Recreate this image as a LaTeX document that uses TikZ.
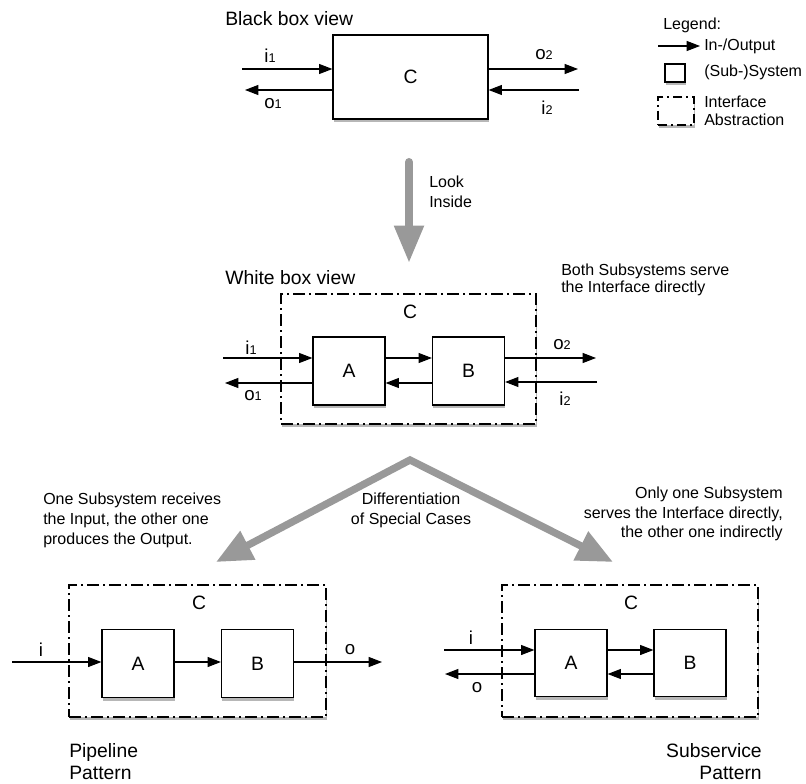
\documentclass[tikz,border=0pt]{standalone}
\usepackage{fontspec}
\setmainfont{Liberation Sans}
\usetikzlibrary{arrows.meta,shadows,calc}
\definecolor{biggray}{RGB}{153,153,153}
\tikzset{
  shad/.style={drop shadow={opacity=0.4,shadow xshift=0.4pt,shadow yshift=-2.5pt,fill=black!70}},
  sysbox/.style={draw, line width=0.9pt, fill=white, inner sep=0pt, shad,
    font=\fontsize{14.5}{16}\selectfont},
  iface/.style={draw, line width=1.1pt, dash pattern=on 9pt off 3pt on 1.5pt off 3pt,
    fill=white, inner sep=0pt, shad},
  io/.style={line width=0.8pt, -{Triangle[length=10pt,width=7.5pt]}},
  bigarrow/.style={draw=biggray, line width=6pt, line cap=round,
    -{Triangle[length=28pt,width=21pt]}},
  diffarrow/.style={draw=biggray, line width=5.5pt, line join=miter,
    {Triangle[length=27pt,width=23pt]}-{Triangle[length=27pt,width=23pt]}},
  head/.style={font=\fontsize{14.5}{16.5}\selectfont, inner sep=0pt},
  txt/.style={font=\fontsize{12}{15}\selectfont, inner sep=0pt},
  lbl/.style={font=\fontsize{14.5}{16}\selectfont, inner sep=0pt},
  port/.style={font=\fontsize{14}{15}\selectfont, inner sep=0pt},
}
\newcommand{\sbs}[1]{{\fontsize{9.5}{9.5}\selectfont #1}}
\begin{document}
\begin{tikzpicture}[x=0.75pt,y=-0.75pt]
\useasboundingbox (0,0) rectangle (806,784);

% ---------------- Black box view ----------------
\node[head, anchor=west] (hbb) at (225,19) {Black box view};
\node[sysbox, minimum width=116.25pt, minimum height=63pt] (C) at (410.5,77) {C};
\coordinate (bi1) at (242,69);
\coordinate (bo1) at (245,90);
\coordinate (bo2) at (578,69);
\coordinate (bi2) at (579,90);
\draw[io] (bi1) -- (bi1 -| C.west);
\draw[io] (C.west |- bo1) -- (bo1);
\draw[io] (C.east |- bo2) -- (bo2);
\draw[io] (bi2) -- (bi2 -| C.east);
\node[port] (lbi1) at (270,56) {i\sbs{1}};
\node[port] (lbo1) at (273,104) {o\sbs{1}};
\node[port] (lbo2) at (544,55) {o\sbs{2}};
\node[port] (lbi2) at (547,108) {i\sbs{2}};

% ---------------- Legend ----------------
\node[txt, anchor=west] (leg) at (663,25) {Legend:};
\coordinate (lga) at (658,46);
\coordinate (lgb) at (700,46);
\draw[io] (lga) -- (lgb);
\node[txt, anchor=west] (lgio) at (704,46) {In-/Output};
\node[draw, line width=0.9pt, fill=white, inner sep=0pt, shad,
      minimum width=15pt, minimum height=13.5pt] (lgsys) at (675,73) {};
\node[txt, anchor=west] (lgsyst) at (704,72) {(Sub-)System};
\node[iface, dash pattern=on 7pt off 3pt on 1.2pt off 3pt,
      minimum width=27pt, minimum height=21pt] (lgif) at (676,111) {};
\node[txt, anchor=west, align=left, font=\fontsize{12}{13.5}\selectfont] (lgift) at (704,111) {Interface\\Abstraction};

% ---------------- Look inside ----------------
\coordinate (lookS) at (409,162);
\coordinate (lookE) at (409,263);
\draw[bigarrow] (lookS) -- (lookE);
\node[txt, anchor=west, align=left] (look) at (429,192) {Look\\Inside};

% ---------------- White box view ----------------
\node[head, anchor=west] (hwb) at (225,278) {White box view};
\node[txt, anchor=west, align=left, font=\fontsize{12}{12.5}\selectfont] (both) at (561,280)
  {Both Subsystems serve\\the Interface directly};
\node[iface, minimum width=191.25pt, minimum height=97.5pt] (wC) at (408.5,359) {};
\node[lbl] (wCl) at (410,312) {C};
\node[sysbox, minimum width=54pt, minimum height=51pt] (wA) at (349,371) {A};
\node[sysbox, minimum width=54pt, minimum height=51pt] (wB) at (468.5,371) {B};
\coordinate (wi1) at (223,358);
\coordinate (wo1) at (225,383);
\coordinate (wab) at (0,358);
\coordinate (wba) at (0,383);
\coordinate (wo2) at (596,358);
\coordinate (wi2) at (597,382);
\draw[io] (wi1) -- (wi1 -| wA.west);
\draw[io] (wA.west |- wo1) -- (wo1);
\draw[io] (wA.east |- wab) -- (wB.west |- wab);
\draw[io] (wB.west |- wba) -- (wA.east |- wba);
\draw[io] (wB.east |- wo2) -- (wo2);
\draw[io] (wi2) -- (wi2 -| wB.east);
\node[port] (lwi1) at (251,348) {i\sbs{1}};
\node[port] (lwo1) at (253,396) {o\sbs{1}};
\node[port] (lwo2) at (562,345) {o\sbs{2}};
\node[port] (lwi2) at (565,399) {i\sbs{2}};

% ---------------- Differentiation ----------------
\coordinate (dL) at (216,562);
\coordinate (dT) at (410,460);
\coordinate (dR) at (613,562);
\draw[diffarrow] (dL) -- (dT) -- (dR);
\node[txt, align=center] (diff) at (411,510) {Differentiation\\of Special Cases};
\node[txt, anchor=west, align=left] (one) at (43,520)
  {One Subsystem receives\\the Input, the other one\\produces the Output.};
\node[txt, anchor=east, align=right, font=\fontsize{12}{14.5}\selectfont] (only) at (783,514)
  {Only one Subsystem\\serves the Interface directly,\\the other one indirectly};

% ---------------- Pipeline pattern ----------------
\node[iface, minimum width=192.75pt, minimum height=99pt] (pC) at (197.5,651) {};
\node[lbl] (pCl) at (199,603) {C};
\node[sysbox, minimum width=54pt, minimum height=51pt] (pA) at (138,663.5) {A};
\node[sysbox, minimum width=54pt, minimum height=51pt] (pB) at (257.5,663.5) {B};
\coordinate (pi) at (12,662);
\coordinate (pab) at (0,662);
\coordinate (po) at (382,662);
\draw[io] (pi) -- (pi -| pA.west);
\draw[io] (pA.east |- pab) -- (pB.west |- pab);
\draw[io] (pB.east |- po) -- (po);
\node[port] (lpi) at (41,650) {i};
\node[port] (lpo) at (350,650) {o};
\node[head, anchor=west, align=left] (pipe) at (69,762) {Pipeline\\Pattern};

% ---------------- Subservice pattern ----------------
\node[iface, minimum width=192pt, minimum height=99pt] (sC) at (630,651) {};
\node[lbl] (sCl) at (631,603) {C};
\node[sysbox, minimum width=54pt, minimum height=50pt] (sA) at (571,663) {A};
\node[sysbox, minimum width=54pt, minimum height=50pt] (sB) at (690,663) {B};
\coordinate (si) at (444,650);
\coordinate (so) at (445,674);
\coordinate (sab) at (0,650);
\coordinate (sba) at (0,674);
\draw[io] (si) -- (si -| sA.west);
\draw[io] (sA.west |- so) -- (so);
\draw[io] (sA.east |- sab) -- (sB.west |- sab);
\draw[io] (sB.west |- sba) -- (sA.east |- sba);
\node[port] (lsi) at (471,638) {i};
\node[port] (lso) at (477,688) {o};
\node[head, anchor=east, align=right] (subs) at (762,762) {Subservice\\Pattern};
\end{tikzpicture}
\end{document}
